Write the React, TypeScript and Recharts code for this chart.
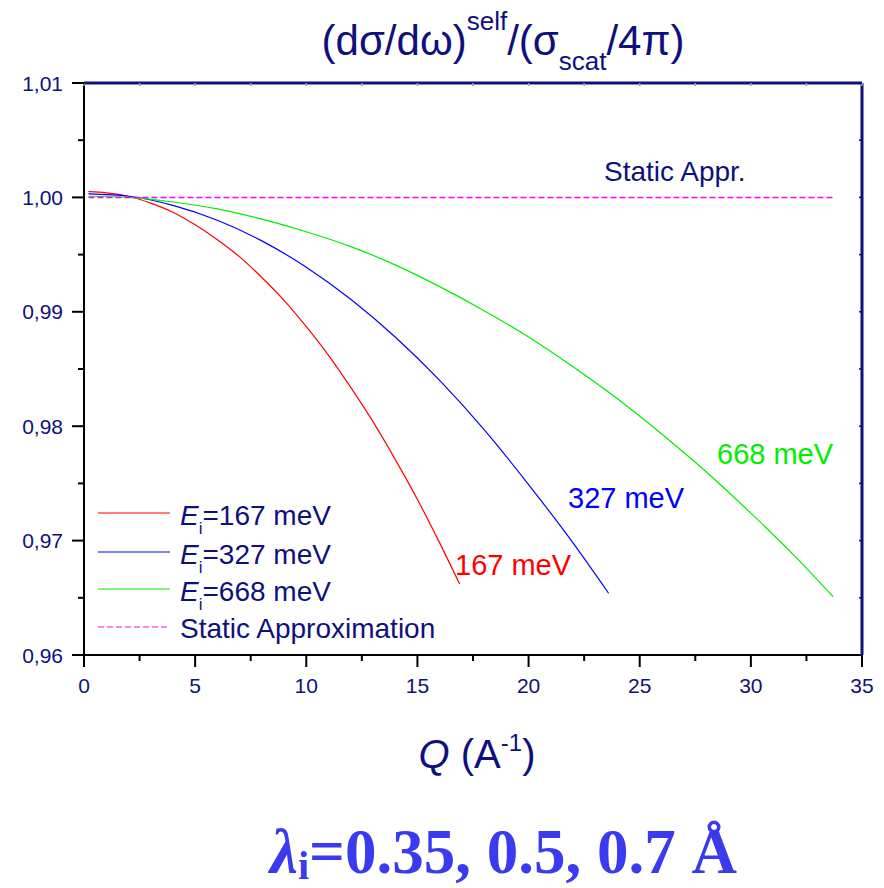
import { LineChart, Line, XAxis, YAxis } from 'recharts'

const NAVY = '#10107c'
const SANS = '"Liberation Sans", Arial, sans-serif'
const SERIF = '"Liberation Serif", "Times New Roman", serif'

// Q values (1/A) and normalised self cross-section for each incident energy
const Q_167 = [0.2, 1, 2, 3, 4, 5, 6, 7, 8, 9, 10, 11, 12, 13, 14, 15, 16, 16.9]
const V_167 = [1.0005, 1.0004, 1.0001, 0.9995, 0.9987, 0.9976, 0.9963, 0.9948, 0.993, 0.991, 0.9887, 0.9862, 0.9834, 0.9804, 0.9771, 0.9736, 0.9698, 0.9662]

const Q_327 = [0.2, 2, 4, 6, 8, 10, 12, 14, 16, 18, 20, 22, 23.6]
const V_327 = [1.0003, 1.0001, 0.9993, 0.998, 0.9962, 0.9939, 0.9911, 0.9878, 0.984, 0.9797, 0.9749, 0.9698, 0.9654]

const Q_668 = [0.2, 2, 4, 6, 8, 10, 12, 14, 16, 18, 20, 22, 24, 26, 28, 30, 32, 33.7]
const V_668 = [1.0001, 1.0, 0.9996, 0.999, 0.9981, 0.997, 0.9957, 0.9941, 0.9922, 0.9901, 0.9878, 0.9852, 0.9824, 0.9793, 0.976, 0.9724, 0.9686, 0.9651]

const Q_STATIC = [0.2, 33.8]
const V_STATIC = [1.0, 1.0]

const X_TICKS = [0, 2.5, 5, 7.5, 10, 12.5, 15, 17.5, 20, 22.5, 25, 27.5, 30, 32.5, 35]
const Y_TICKS = [0.96, 0.965, 0.97, 0.975, 0.98, 0.985, 0.99, 0.995, 1.0, 1.005, 1.01]

const toPoints = (qs: number[], vs: number[]) => qs.map((q, i) => ({ q, v: vs[i] }))

// the static line is bound to the top/right axes so the frame gets drawn
const SERIES = [
  { key: 'e167', energy: '167', color: '#ff0000', data: toPoints(Q_167, V_167), dash: undefined, frame: false },
  { key: 'e327', energy: '327', color: '#0000ff', data: toPoints(Q_327, V_327), dash: undefined, frame: false },
  { key: 'e668', energy: '668', color: '#00ee00', data: toPoints(Q_668, V_668), dash: undefined, frame: false },
  { key: 'static', energy: '', color: '#ff00ff', data: toPoints(Q_STATIC, V_STATIC), dash: '6 3', frame: true },
]

const W = 884
const H = 888
// top/right axes take 1px each, so plot spans x 84..862, y 83..655
const MARGIN = { top: 82, right: 21, bottom: 203, left: 0 }

const isMajorX = (v: number) => Math.abs(v % 5) < 1e-6
const isMajorY = (v: number) => Math.round(v * 1000) % 10 === 0

function BottomTick(props: any) {
  const { x, y, payload } = props
  const major = isMajorX(payload.value)
  return (
    <g>
      <line x1={x} x2={x} y1={y} y2={y + (major ? 12 : 6)} stroke="#000" strokeWidth={2} />
      {major && (
        <text x={x} y={y + 38} textAnchor="middle" fontSize={21} fontFamily={SANS} fill={NAVY}>
          {payload.value}
        </text>
      )}
    </g>
  )
}

function LeftTick(props: any) {
  const { x, y, payload } = props
  const major = isMajorY(payload.value)
  return (
    <g>
      <line x1={x - (major ? 12 : 6)} x2={x} y1={y} y2={y} stroke="#000" strokeWidth={2} />
      {major && (
        <text x={x - 21} y={y} dy="0.36em" textAnchor="end" fontSize={21} fontFamily={SANS} fill={NAVY}>
          {payload.value.toFixed(2).replace('.', ',')}
        </text>
      )}
    </g>
  )
}

function TopTick(props: any) {
  const { x, y } = props
  return <line x1={x} x2={x} y1={y} y2={y + 3} stroke="#9a9ac8" strokeWidth={1.5} />
}

function RightTick(props: any) {
  const { x, y } = props
  return <line x1={x - 3} x2={x} y1={y} y2={y} stroke={NAVY} strokeWidth={1.5} />
}

function Overlay() {
  const legendRows = [513, 552, 589, 627]
  return (
    <svg width={W} height={H} style={{ position: 'absolute', left: 0, top: 0, pointerEvents: 'none' }}>
      {/* title */}
      <text x={503} y={55} textAnchor="middle" fontSize={42} fontFamily={SANS} fill={NAVY}>
        (dσ/dω)
        <tspan dy={-25} fontSize={26}>self</tspan>
        <tspan dy={25}>/(σ</tspan>
        <tspan dy={15} fontSize={26}>scat</tspan>
        <tspan dy={-15}>/4π)</tspan>
      </text>

      {/* curve annotations */}
      <text x={604} y={181} fontSize={28} fontFamily={SANS} fill={NAVY}>Static Appr.</text>
      <text x={717} y={464} fontSize={29} fontFamily={SANS} fill="#00ee00">668 meV</text>
      <text x={568} y={508} fontSize={29} fontFamily={SANS} fill="#0000ff">327 meV</text>
      <text x={455} y={575} fontSize={29} fontFamily={SANS} fill="#ff0000">167 meV</text>

      {/* legend */}
      {SERIES.map((s, i) => (
        <g key={s.key}>
          <line x1={98} x2={170} y1={legendRows[i]} y2={legendRows[i]} stroke={s.color} strokeWidth={1.2} strokeDasharray={s.dash} />
          {s.energy ? (
            <text x={180} y={legendRows[i] + 12} fontSize={28} fontFamily={SANS} fill={NAVY}>
              <tspan fontStyle="italic">E</tspan>
              <tspan dy={9} fontSize={17}>i</tspan>
              <tspan dy={-9}>={s.energy} meV</tspan>
            </text>
          ) : (
            <text x={180} y={legendRows[i] + 11} fontSize={28} fontFamily={SANS} fill={NAVY}>Static Approximation</text>
          )}
        </g>
      ))}

      {/* x axis title */}
      <text x={477} y={768} textAnchor="middle" fontSize={40} fontFamily={SANS} fill={NAVY}>
        <tspan fontStyle="italic">Q</tspan>
        <tspan> (A</tspan>
        <tspan dy={-17} fontSize={24}>-1</tspan>
        <tspan dy={17}>)</tspan>
      </text>

      {/* incident wavelengths */}
      <text x={270} y={873} fontSize={63} fontWeight="bold" fontFamily={SERIF} fill="#3a3aee">
        <tspan fontStyle="italic">λ</tspan>
        <tspan dy={6} fontSize={40}>i</tspan>
        <tspan dy={-6}>=0.35, 0.5, 0.7 Å</tspan>
      </text>
    </svg>
  )
}

export default function App() {
  return (
    <div style={{ position: 'absolute', left: 0, top: 0, width: W, height: H, background: '#fff' }}>
      <LineChart width={W} height={H} margin={MARGIN}>
        <XAxis
          dataKey="q"
          type="number"
          domain={[0, 35]}
          ticks={X_TICKS}
          allowDataOverflow
          height={30}
          tickSize={0}
          tickMargin={0}
          tickLine={false}
          tick={<BottomTick />}
          axisLine={{ stroke: '#000', strokeWidth: 2 }}
          interval={0}
        />
        <XAxis
          xAxisId="top"
          dataKey="q"
          orientation="top"
          type="number"
          domain={[0, 35]}
          ticks={X_TICKS}
          allowDataOverflow
          height={1}
          tickSize={0}
          tickMargin={0}
          tickLine={false}
          tick={<TopTick />}
          axisLine={{ stroke: NAVY, strokeWidth: 3 }}
          interval={0}
        />
        <YAxis
          type="number"
          domain={[0.96, 1.01]}
          ticks={Y_TICKS}
          allowDataOverflow
          width={84}
          tickSize={0}
          tickMargin={0}
          tickLine={false}
          tick={<LeftTick />}
          axisLine={{ stroke: '#000', strokeWidth: 2 }}
          interval={0}
        />
        <YAxis
          yAxisId="right"
          orientation="right"
          type="number"
          domain={[0.96, 1.01]}
          ticks={Y_TICKS}
          allowDataOverflow
          width={1}
          tickSize={0}
          tickMargin={0}
          tickLine={false}
          tick={<RightTick />}
          axisLine={{ stroke: NAVY, strokeWidth: 3 }}
          interval={0}
        />
        {SERIES.map((s) => (
          <Line
            key={s.key}
            data={s.data}
            dataKey="v"
            xAxisId={s.frame ? 'top' : 0}
            yAxisId={s.frame ? 'right' : 0}
            type="monotone"
            stroke={s.color}
            strokeWidth={s.dash ? 1.5 : 1.2}
            strokeDasharray={s.dash}
            dot={false}
            activeDot={false}
            isAnimationActive={false}
          />
        ))}
      </LineChart>
      <Overlay />
    </div>
  )
}
